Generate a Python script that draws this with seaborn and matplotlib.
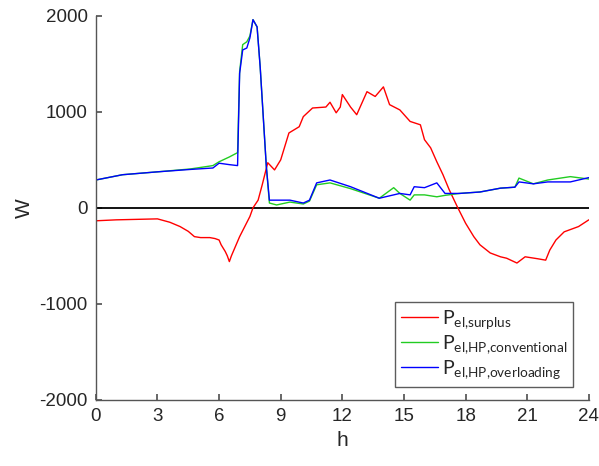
import numpy as np
import pandas as pd
import matplotlib
matplotlib.use("Agg")
import matplotlib.pyplot as plt
import seaborn as sns

# ----------------------------
# DATA
# ----------------------------
h_surplus = [0, 1, 2, 3, 3.6, 4.1, 4.5, 4.8, 5.1, 5.55, 5.8, 6.0, 6.1, 6.3, 6.4, 6.5,
             6.6, 6.8, 7.0, 7.25, 7.5, 7.65, 7.9, 8.1, 8.37, 8.7, 9.0, 9.4, 9.9, 10.1,
             10.55, 11.2, 11.4, 11.7, 11.9, 12.0, 12.4, 12.7, 13.2, 13.6, 14.0, 14.3,
             14.8, 15.3, 15.8, 16.0, 16.3, 16.6, 16.9, 17.2, 17.6, 18.0, 18.4, 18.7,
             19.2, 19.7, 20.0, 20.5, 20.9, 21.5, 21.9, 22.1, 22.4, 22.8, 23.5, 24]
p_surplus = [-135, -125, -120, -115, -150, -195, -245, -300, -310, -310, -320, -335,
             -385, -455, -500, -560, -500, -400, -300, -195, -90, 0, 80, 240, 470, 395,
             500, 780, 845, 950, 1040, 1050, 1100, 990, 1050, 1180, 1050, 970, 1210,
             1160, 1260, 1075, 1020, 900, 865, 710, 625, 480, 345, 190, 10, -160, -300,
             -385, -470, -510, -525, -575, -510, -530, -545, -440, -335, -250, -195, -125]

h_hp = [0, 1.3, 3, 4.6, 5.7, 6.0, 6.5, 6.9, 7.0, 7.15, 7.35, 7.5, 7.65, 7.85, 8.0,
        8.15, 8.3, 8.45, 8.8, 9.45, 10.1, 10.4, 10.75, 11.4, 12.4, 13.8, 14.5, 14.8,
        15.3, 15.5, 16.0, 16.6, 17.0, 17.7, 18.7, 19.7, 20.4, 20.6, 21.3, 22.0, 23.1, 24]
p_conventional = [290, 345, 375, 405, 440, 480, 530, 575, 1420, 1700, 1730, 1790, 1960,
                  1885, 1470, 950, 430, 50, 30, 60, 40, 70, 240, 260, 200, 100, 210, 150,
                  80, 135, 135, 115, 130, 150, 165, 205, 215, 310, 250, 290, 325, 300]
p_overloading = [290, 345, 375, 400, 415, 465, 450, 440, 1400, 1645, 1665, 1770, 1960,
                 1885, 1470, 950, 430, 80, 80, 80, 50, 80, 260, 290, 220, 100, 135, 150,
                 135, 220, 210, 260, 150, 150, 165, 205, 215, 270, 250, 270, 270, 315]

labels = [r"$\mathrm{P_{el{,}surplus}}$",
          r"$\mathrm{P_{el{,}HP{,}conventional}}$",
          r"$\mathrm{P_{el{,}HP{,}overloading}}$"]
colors = ["#ff0000", "#22cc22", "#0000ff"]

x_ticks = [0, 3, 6, 9, 12, 15, 18, 21, 24]
y_ticks = [-2000, -1000, 0, 1000, 2000]

# ----------------------------
# PLOT
# ----------------------------
sns.set_theme(style="ticks")
plt.rcParams["font.family"] = ["Liberation Sans", "DejaVu Sans"]
plt.rcParams["mathtext.fontset"] = "custom"
plt.rcParams["mathtext.rm"] = "Lato"
plt.rcParams["axes.unicode_minus"] = False

fig = plt.figure(figsize=(5.99, 4.66), dpi=100)
ax = fig.add_axes([0.160, 0.142, 0.823, 0.824])

ax.axhline(0, color="black", lw=1.3, zorder=1)

series = [(h_surplus, p_surplus), (h_hp, p_conventional), (h_hp, p_overloading)]
for (hx, py), lab, col in zip(series, labels, colors):
    df = pd.DataFrame({"h": hx, "W": py})
    sns.lineplot(data=df, x="h", y="W", ax=ax, color=col, lw=1.0, label=lab)

ax.set_xlim(0, 24)
ax.set_ylim(-2000, 2000)
ax.set_xticks(x_ticks)
ax.set_yticks(y_ticks)
ax.tick_params(direction="in", length=4, labelsize=13.5, colors="#262626",
               color="#555555", pad=6)
ax.set_xlabel("h", fontsize=15, color="#262626")
ax.set_ylabel("W", fontsize=15, color="#262626", labelpad=4)
sns.despine(ax=ax)
for s in ["left", "bottom"]:
    ax.spines[s].set_color("#555555")
    ax.spines[s].set_linewidth(1.0)

leg = ax.legend(loc="lower right", bbox_to_anchor=(0.968, 0.034), borderaxespad=0,
                fontsize=14, frameon=True, fancybox=False, handlelength=1.9,
                borderpad=0.3, labelspacing=0.12, handletextpad=0.2)
leg.get_frame().set_edgecolor("#333333")
leg.get_frame().set_linewidth(1.0)

fig.savefig("out.png", dpi=100)
